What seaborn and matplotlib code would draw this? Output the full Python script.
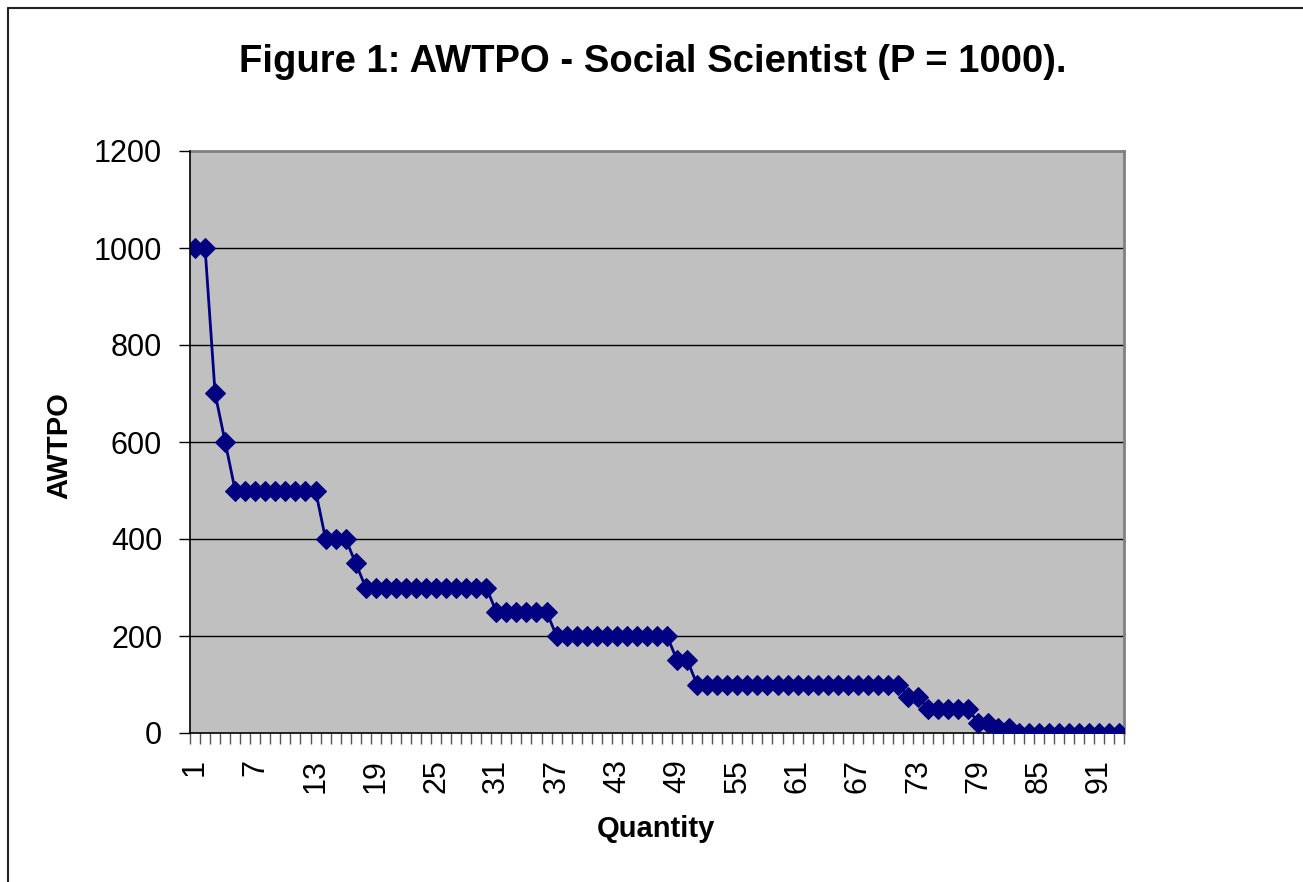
import matplotlib
matplotlib.use("Agg")
import matplotlib.pyplot as plt
import matplotlib.lines as mlines
import seaborn as sns
import pandas as pd

# ---- data ----
quantity = list(range(1, 94))
awtpo = [
    1000, 1000, 700, 600,
    500, 500, 500, 500, 500, 500, 500, 500, 500,
    400, 400, 400, 350,
    300, 300, 300, 300, 300, 300, 300, 300, 300, 300, 300, 300, 300,
    250, 250, 250, 250, 250, 250,
    200, 200, 200, 200, 200, 200, 200, 200, 200, 200, 200, 200,
    150, 150,
    100, 100, 100, 100, 100, 100, 100, 100, 100, 100, 100,
    100, 100, 100, 100, 100, 100, 100, 100, 100, 100,
    75, 75,
    50, 50, 50, 50, 50,
    20, 20,
    10, 10,
    0, 0, 0, 0, 0, 0, 0, 0, 0, 0, 0,
]
xtick_labels = ["1", "7", "13", "19", "25", "31", "37", "43", "49", "55",
                "61", "67", "73", "79", "85", "91"]
ytick_values = [0, 200, 400, 600, 800, 1000, 1200]

title = "Figure 1: AWTPO - Social Scientist (P = 1000)."
xlabel = "Quantity"
ylabel = "AWTPO"

df = pd.DataFrame({"Quantity": quantity, "AWTPO": awtpo})

# ---- style ----
sns.set_style("white")
plt.rcParams["font.family"] = ["Liberation Sans", "DejaVu Sans"]
plt.rcParams["text.color"] = "black"
plt.rcParams["axes.labelcolor"] = "black"
plt.rcParams["xtick.labelcolor"] = "black"
plt.rcParams["ytick.labelcolor"] = "black"

W, H = 1303, 882
L, R, T, B = 190, 1124, 151, 733
fig = plt.figure(figsize=(W / 100, H / 100), dpi=100)
ax = fig.add_axes([L / W, 1 - B / H, (R - L) / W, (B - T) / H])
ax.set_facecolor("#C0C0C0")

sns.lineplot(data=df, x="Quantity", y="AWTPO", ax=ax, color="#000080",
             linewidth=2.0, marker="D", markersize=9.8,
             markeredgecolor="#000080", markerfacecolor="#000080",
             zorder=3)

ax.set_xlim(0.5, len(quantity) + 0.5)
ax.set_ylim(0, 1200)

# horizontal gridlines
for v in ytick_values[1:-1]:
    ax.axhline(v, color="black", linewidth=1.0, zorder=1)

# y ticks
ax.set_yticks(ytick_values)
ax.set_yticklabels([str(v) for v in ytick_values], fontsize=22)
ax.tick_params(axis="y", direction="out", length=8, width=1, color="black",
               pad=12, left=True)

# x: tick marks at category boundaries, labels at category centres
boundaries = [q - 0.5 for q in quantity] + [quantity[-1] + 0.5]
ax.set_xticks(boundaries)
ax.set_xticklabels([""] * len(boundaries))
ax.tick_params(axis="x", which="major", direction="out", length=8, width=1,
               color="#555555", bottom=True)
label_pos = [int(s) for s in xtick_labels]
ax.set_xticks(label_pos, minor=True)
ax.set_xticklabels(xtick_labels, minor=True, rotation=90, fontsize=22)
ax.tick_params(axis="x", which="minor", length=0, pad=19, bottom=True)

# spines
for s in ["left", "bottom"]:
    ax.spines[s].set_color("black")
    ax.spines[s].set_linewidth(1.2)
for s in ["top", "right"]:
    ax.spines[s].set_color("#808080")
    ax.spines[s].set_linewidth(2)
ax.spines["left"].set_zorder(4)

# labels
ax.set_xlabel(xlabel, fontsize=21, fontweight="bold")
ax.xaxis.set_label_coords((656 - L) / (R - L), (B - 829) / (B - T))
ax.xaxis.label.set_va("center")
ax.set_ylabel(ylabel, fontsize=21, fontweight="bold")
ax.yaxis.set_label_coords((59 - L) / (R - L), (B - 446) / (B - T))
ax.yaxis.label.set_va("center")

fig.suptitle(title, x=(652.5 / W), y=1 - 62 / H, va="center", fontsize=27.5,
             fontweight="bold", color="black")

# figure border (top and left)
fig.add_artist(mlines.Line2D([8 / W, 8 / W], [0, 1 - 8 / H], color="#222222",
                             linewidth=1.5, transform=fig.transFigure))
fig.add_artist(mlines.Line2D([8 / W, 1], [1 - 8 / H, 1 - 8 / H],
                             color="#222222", linewidth=1.5,
                             transform=fig.transFigure))

fig.savefig("out.png", dpi=100, facecolor="white")
